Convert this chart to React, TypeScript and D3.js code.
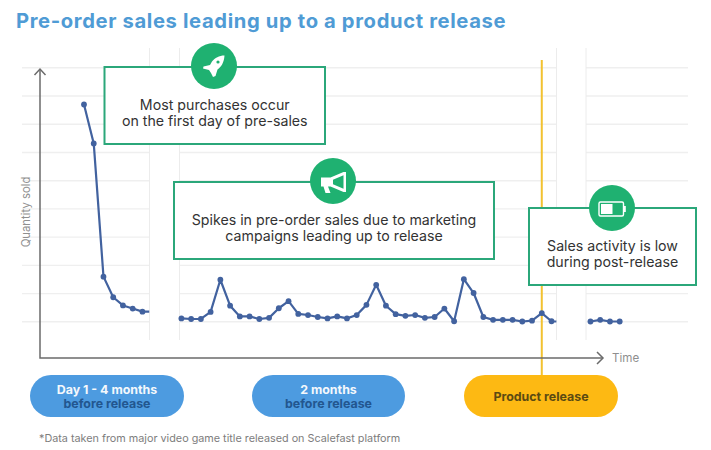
import React from "react";
import * as d3 from "d3";

const titleText = "Pre-order sales leading up to a product release";
const yLabel = "Quantity sold";
const xLabel = "Time";
const footnote = "*Data taken from major video game title released on Scalefast platform";

const gridValues = [0, 100, 200, 300, 400, 500, 600, 700, 800, 900];

const launchDays = [0, 1, 2, 3, 4, 5, 6];
const launchSales = [770, 632, 160, 87, 58, 47, 36];
const launchTail = { day: 6.7, value: 36 };

const campaignDays = d3.range(10, 49);
const campaignSales = [12, 10, 10, 35, 149, 57, 19, 19, 10, 14, 48, 73, 28, 24, 17, 12, 19, 12, 24, 60, 131, 57, 27, 21, 24, 14, 17, 47, 2, 151, 102, 17, 7, 7, 7, 1, 4, 31, 2];
const campaignTail = { day: 48.5, value: 1 };

const postDays = [52, 53, 54, 55];
const postSales = [1, 7, 1, 1];

const releaseDay = 47;

const callouts = [
  { lines: ["Most purchases occur", "on the first day of pre-sales"], x: 104.5, y: 67, w: 220.5, h: 77, cx: 214, cy: 66, icon: "rocket" },
  { lines: ["Spikes in pre-order sales due to marketing", "campaigns leading up to release"], x: 174, y: 182, w: 320, h: 77, cx: 333, cy: 181, icon: "horn" },
  { lines: ["Sales activity is low", "during post-release"], x: 529, y: 208, w: 167, h: 77, cx: 612, cy: 208, icon: "battery" },
];

const pills = [
  { x: 30, w: 154, top: "Day 1 - 4 months", bottom: "before release", fill: "#4d9be0" },
  { x: 252, w: 153, top: "2 months", bottom: "before release", fill: "#4d9be0" },
  { x: 464, w: 154, top: "", bottom: "Product release", fill: "#fdb913" },
];

const FONT = "Inter, 'Open Sans', sans-serif";
const LINE = "#42629f";
const GREEN = "#1fb171";
const BOX = "#2ba77a";

const x = d3.scaleLinear().domain([0, 55]).range([84, 619.7]);
const y = d3.scaleLinear().domain([0, 900]).range([321.8, 67.8]);
const pathOf = d3.line<[number, number]>().x((d) => x(d[0])).y((d) => y(d[1]));

const zip = (days: number[], vals: number[]) => days.map((d, i) => [d, vals[i]] as [number, number]);

const series = [
  { pts: zip(launchDays, launchSales), tail: launchTail },
  { pts: zip(campaignDays, campaignSales), tail: campaignTail },
  { pts: zip(postDays, postSales), tail: null as null | { day: number; value: number } },
];

function Icon({ kind, cx, cy }: { kind: string; cx: number; cy: number }) {
  if (kind === "rocket") {
    return (
      <g transform={`translate(${cx},${cy})`} fill="#fff">
        <path d="M10.5,-10.5 C5,-10.5 1,-8 -2,-4.5 L-4,-1 L-10.5,0.5 L-11,2.5 L-5,4 L-3,7 L-1,11 L1.5,10 L3.5,3.5 C7,1 10,-3 10.5,-10.5 Z" />
        <circle cx="4" cy="-4" r="1.6" fill={GREEN} />
      </g>
    );
  }
  if (kind === "horn") {
    return (
      <g transform={`translate(${cx + 0.5},${cy + 1})`}>
        <path d="M-12.5,-4.5 L-3,-4.5 L10,-10 L12.5,-10 L12.5,10 L10,10 L-3,4.5 L-5.5,4.5 L-3,11 L-8,11 L-10,4.5 L-12.5,4.5 Z" fill="#fff" />
        <path d="M-0.5,-2.2 L10,-6.8 L10,6.8 L-0.5,2.2 Z" fill={GREEN} />
      </g>
    );
  }
  return (
    <g transform={`translate(${cx},${cy + 1})`}>
      <rect x="-13" y="-7" width="24.5" height="14" rx="1.5" fill={GREEN} stroke="#fff" strokeWidth="1.4" />
      <rect x="-11" y="-5" width="11.5" height="10" fill="#fff" />
      <rect x="12" y="-3" width="1.8" height="6" fill="#fff" />
    </g>
  );
}

export default function App() {
  return (
    <svg width={711} height={450} style={{ position: "absolute", left: 0, top: 0, background: "#fff" }} fontFamily={FONT}>
      <text x={16} y={28} fontSize={20.2} fontWeight={700} fill="#4f9bd5" letterSpacing={0.64}>{titleText}</text>

      <g stroke="#efefef" strokeWidth={1.4}>
        {gridValues.map((v) => (
          <g key={v}>
            <line x1={22} x2={149.5} y1={y(v)} y2={y(v)} />
            <line x1={179.5} x2={556.5} y1={y(v)} y2={y(v)} />
            <line x1={586} x2={688} y1={y(v)} y2={y(v)} />
          </g>
        ))}
      </g>
      <g stroke="#ececec" strokeWidth={1}>
        {[149.5, 179.5, 556.5, 586].map((vx) => (
          <line key={vx} x1={vx} x2={vx} y1={48} y2={340} />
        ))}
      </g>

      <line x1={x(releaseDay)} x2={x(releaseDay)} y1={60} y2={376} stroke="#f2c230" strokeWidth={2} />

      <g fill="none" stroke="#6b6b6b" strokeWidth={1.5}>
        <path d="M40,69 V358 H603" />
        <path d="M34.5,75 L40,69 L45.5,75" />
        <path d="M597,352 L603,358 L597,364" />
      </g>
      <text x={612} y={362} fontSize={11.6} fill="#8f8f8f">{xLabel}</text>
      <text transform="translate(30,212) rotate(-90)" textAnchor="middle" fontSize={11.3} fill="#8f8f8f">{yLabel}</text>

      {series.map((s, i) => (
        <g key={i}>
          <path
            d={pathOf(s.tail ? [...s.pts, [s.tail.day, s.tail.value]] : s.pts) || ""}
            fill="none"
            stroke={LINE}
            strokeWidth={2.2}
            strokeLinejoin="round"
          />
          {s.pts.map(([d, v]) => (
            <circle key={d} cx={x(d)} cy={y(v)} r={2.9} fill={LINE} />
          ))}
        </g>
      ))}

      {callouts.map((c) => (
        <g key={c.icon}>
          <rect x={c.x} y={c.y} width={c.w} height={c.h} fill="#fff" stroke={BOX} strokeWidth={2} />
          <circle cx={c.cx} cy={c.cy} r={23} fill={GREEN} />
          <Icon kind={c.icon} cx={c.cx} cy={c.cy} />
          {c.lines.map((l, i) => (
            <text key={l} x={c.x + c.w / 2} y={c.y + 43 + i * 16} textAnchor="middle" fontSize={14.2} fill="#333">{l}</text>
          ))}
        </g>
      ))}

      {pills.map((p) => (
        <g key={p.bottom + p.x}>
          <rect x={p.x} y={375} width={p.w} height={42} rx={21} fill={p.fill} />
          {p.top ? (
            <>
              <text x={p.x + p.w / 2} y={394} textAnchor="middle" fontSize={12.4} fontWeight={700} fill="#f4f8fc">{p.top}</text>
              <text x={p.x + p.w / 2} y={408} textAnchor="middle" fontSize={12.4} fontWeight={700} fill="#22568f">{p.bottom}</text>
            </>
          ) : (
            <text x={p.x + p.w / 2} y={401} textAnchor="middle" fontSize={12.4} fontWeight={700} fill="#5b4a12">{p.bottom}</text>
          )}
        </g>
      ))}

      <text x={39} y={442} fontSize={10.8} fill="#7d7d7d">{footnote}</text>
    </svg>
  );
}
